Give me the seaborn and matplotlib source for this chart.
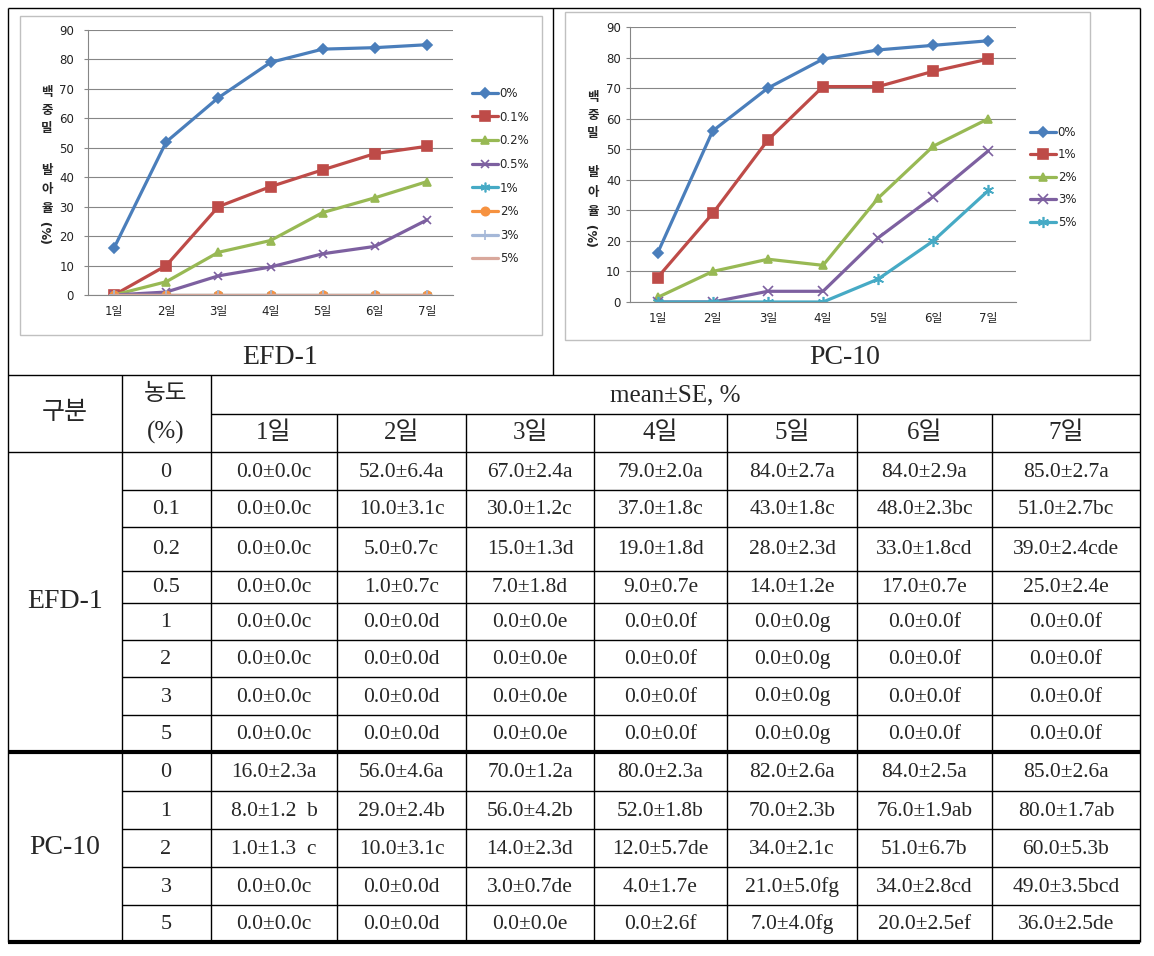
import matplotlib
matplotlib.use("Agg")
import matplotlib.pyplot as plt
from matplotlib.patches import Rectangle
import seaborn as sns

sns.set_style("white")
plt.rcParams['font.family'] = ['DejaVu Sans', 'Noto Sans CJK KR']
serif = ['Liberation Serif', 'Noto Sans CJK KR']

days = ["1일", "2일", "3일", "4일", "5일", "6일", "7일"]

# EFD-1 chart
efd_labels = ["0%", "0.1%", "0.2%", "0.5%", "1%", "2%", "3%", "5%"]
efd_0 = [16, 52, 67, 79, 83.5, 84, 85]
efd_01 = [0, 10, 30, 36.8, 42.5, 48, 50.5]
efd_02 = [0, 4.5, 14.5, 18.5, 28, 33, 38.5]
efd_05 = [0, 1, 6.5, 9.5, 14, 16.5, 25.5]
efd_1 = [0, 0, 0, 0, 0, 0, 0]
efd_2 = [0, 0, 0, 0, 0, 0, 0]
efd_3 = [0, 0, 0, 0, 0, 0, 0]
efd_5 = [0, 0, 0, 0, 0, 0, 0]

# PC-10 chart
pc_labels = ["0%", "1%", "2%", "3%", "5%"]
pc_0 = [16, 56, 70, 79.5, 82.5, 84, 85.5]
pc_1 = [8, 29, 53, 70.5, 70.5, 75.5, 79.5]
pc_2 = [1.5, 10, 14, 12, 34, 51, 60]
pc_3 = [0, 0, 3.5, 3.5, 21, 34.5, 49.5]
pc_5 = [0, 0, 0, 0, 7.5, 20, 36.5]

# table
efd_conc = ["0", "0.1", "0.2", "0.5", "1", "2", "3", "5"]
efd_rows = [
    ["0.0±0.0c", "52.0±6.4a", "67.0±2.4a", "79.0±2.0a", "84.0±2.7a", "84.0±2.9a", "85.0±2.7a"],
    ["0.0±0.0c", "10.0±3.1c", "30.0±1.2c", "37.0±1.8c", "43.0±1.8c", "48.0±2.3bc", "51.0±2.7bc"],
    ["0.0±0.0c", "5.0±0.7c", "15.0±1.3d", "19.0±1.8d", "28.0±2.3d", "33.0±1.8cd", "39.0±2.4cde"],
    ["0.0±0.0c", "1.0±0.7c", "7.0±1.8d", "9.0±0.7e", "14.0±1.2e", "17.0±0.7e", "25.0±2.4e"],
    ["0.0±0.0c", "0.0±0.0d", "0.0±0.0e", "0.0±0.0f", "0.0±0.0g", "0.0±0.0f", "0.0±0.0f"],
    ["0.0±0.0c", "0.0±0.0d", "0.0±0.0e", "0.0±0.0f", "0.0±0.0g", "0.0±0.0f", "0.0±0.0f"],
    ["0.0±0.0c", "0.0±0.0d", "0.0±0.0e", "0.0±0.0f", "0.0±0.0g", "0.0±0.0f", "0.0±0.0f"],
    ["0.0±0.0c", "0.0±0.0d", "0.0±0.0e", "0.0±0.0f", "0.0±0.0g", "0.0±0.0f", "0.0±0.0f"],
]
pc_conc = ["0", "1", "2", "3", "5"]
pc_rows = [
    ["16.0±2.3a", "56.0±4.6a", "70.0±1.2a", "80.0±2.3a", "82.0±2.6a", "84.0±2.5a", "85.0±2.6a"],
    ["8.0±1.2  b", "29.0±2.4b", "56.0±4.2b", "52.0±1.8b", "70.0±2.3b", "76.0±1.9ab", "80.0±1.7ab"],
    ["1.0±1.3  c", "10.0±3.1c", "14.0±2.3d", "12.0±5.7de", "34.0±2.1c", "51.0±6.7b", "60.0±5.3b"],
    ["0.0±0.0c", "0.0±0.0d", "3.0±0.7de", "4.0±1.7e", "21.0±5.0fg", "34.0±2.8cd", "49.0±3.5bcd"],
    ["0.0±0.0c", "0.0±0.0d", "0.0±0.0e", "0.0±2.6f", "7.0±4.0fg", "20.0±2.5ef", "36.0±2.5de"],
]

blue, red, green, purple = "#4A7EBB", "#BE4B48", "#98B954", "#7D60A0"
cyan, orange, lblue, pink = "#46AAC5", "#F69240", "#A5B8D8", "#D9A89C"

efd_styles = [(blue, "D", 5), (red, "s", 7), (green, "^", 6), (purple, "x", 6),
              (cyan, (6, 2, 0), 7), (orange, "o", 6), (lblue, "+", 7), (pink, "None", 0)]
pc_styles = [(blue, "D", 5), (red, "s", 7), (green, "^", 6), (purple, "x", 7), (cyan, (6, 2, 0), 8)]

W, H = 1154, 956
fig = plt.figure(figsize=(W / 100, H / 100), dpi=100)

bg = fig.add_axes([0, 0, 1, 1], zorder=0)
bg.set_xlim(0, W)
bg.set_ylim(H, 0)
bg.axis("off")


def hline(y, x0, x1, lw=1.0):
    bg.plot([x0, x1], [y, y], color="black", lw=lw, solid_capstyle="butt")


def vline(x, y0, y1, lw=1.0):
    bg.plot([x, x], [y0, y1], color="black", lw=lw, solid_capstyle="butt")


def draw_chart(rect, labels, series, styles, ypad, leg_xy, leg_space):
    ax = fig.add_axes([rect[0] / W, 1 - rect[3] / H, (rect[2] - rect[0]) / W, (rect[3] - rect[1]) / H],
                      zorder=2)
    x = list(range(len(days)))
    for lab, vals, (col, mk, ms) in zip(labels, series, styles):
        sns.lineplot(x=x, y=vals, ax=ax, color=col, marker=mk, markersize=ms, linewidth=2.3,
                     markeredgecolor=col, markerfacecolor=col, markeredgewidth=1.2, label=lab)
    ax.set_xlim(-0.5, 6.5)
    ax.set_ylim(0, 90)
    ax.set_yticks(range(0, 91, 10))
    ax.set_xticks(x)
    ax.set_xticklabels(days)
    ax.set_xticks([i - 0.5 for i in range(8)], minor=True)
    ax.yaxis.grid(True, color="#868686", lw=0.8)
    ax.set_axisbelow(True)
    for s in ["top", "right"]:
        ax.spines[s].set_visible(False)
    for s in ["left", "bottom"]:
        ax.spines[s].set_color("#868686")
        ax.spines[s].set_linewidth(0.8)
    ax.tick_params(axis="x", which="major", length=0, pad=7, labelsize=8.5, labelcolor="#222222")
    ax.tick_params(axis="x", which="minor", length=3, color="#868686", width=0.8, direction="out")
    ax.tick_params(axis="y", length=3, color="#868686", width=0.8, pad=ypad, labelsize=8.5,
                   labelcolor="#222222", direction="out", left=True)
    ax.set_xlabel("")
    ax.set_ylabel("")
    handles, labs = ax.get_legend_handles_labels()
    ax.legend(handles, labs, loc="upper left", bbox_to_anchor=(leg_xy[0] / W, 1 - leg_xy[1] / H),
              bbox_transform=fig.transFigure, frameon=False, fontsize=8.5, labelspacing=leg_space,
              handlelength=2.2, handletextpad=0.15, borderpad=0, borderaxespad=0)
    return ax


# frames of the top row
hline(8, 8, 1140)
vline(8, 8, 942)
vline(1140, 8, 942)
vline(553, 8, 375)
hline(375, 8, 1140)
bg.add_patch(Rectangle((20, 16), 522, 319, fill=False, edgecolor="#C0C0C0", lw=1))
bg.add_patch(Rectangle((565, 12), 525, 328, fill=False, edgecolor="#C0C0C0", lw=1))

draw_chart((88, 30, 453, 295), efd_labels,
           [efd_0, efd_01, efd_02, efd_05, efd_1, efd_2, efd_3, efd_5],
           efd_styles, 7, (472, 87), 0.9)
draw_chart((630, 27, 1016, 302), pc_labels, [pc_0, pc_1, pc_2, pc_3, pc_5],
           pc_styles, 3.5, (1030, 126), 0.8)

# stacked y labels
for cx, ys in [(47, [92, 110, 128, 170, 189, 208]), (593, [97, 115, 133, 172, 192, 211])]:
    for ch, yy in zip("백중밀발아율", ys):
        bg.text(cx, yy, ch, ha="center", va="center", fontsize=9, fontweight="bold",
                family=["Noto Sans CJK KR"])
    bg.text(cx, ys[-1] + 23, "(%)", ha="center", va="center", fontsize=9, fontweight="bold",
            rotation=90)

bg.text(280, 357, "EFD-1", ha="center", va="center", fontsize=20, family=serif)
bg.text(845, 357, "PC-10", ha="center", va="center", fontsize=20, family=serif)

# table grid
col_x = [211, 337, 466, 594, 727, 857, 992, 1140]
efd_y = [452, 490, 527, 571, 603, 640, 677, 715, 752]
pc_y = [752, 791, 829, 867, 905, 942]

hline(414, 211, 1140)
vline(122, 375, 942)
vline(211, 375, 942)
for cx in col_x[1:-1]:
    vline(cx, 414, 942)
hline(452, 8, 1140)
for yy in efd_y[1:-1] + pc_y[1:-1]:
    hline(yy, 122, 1140)
hline(752, 8, 1140, lw=3)
hline(942, 8, 1140, lw=3)

# table header
bg.text(65, 413, "구분", ha="center", va="center", fontsize=18, family=serif)
bg.text(166, 394, "농도", ha="center", va="center", fontsize=17, family=serif)
bg.text(166, 432, "(%)", ha="center", va="center", fontsize=18, family=serif)
bg.text(675, 395, "mean±SE, %", ha="center", va="center", fontsize=18, family=serif)
centers = [(col_x[i] + col_x[i + 1]) / 2 for i in range(7)]
for cx, d in zip(centers, days):
    bg.text(cx, 433, d, ha="center", va="center", fontsize=18, family=serif)

# table body
for name, conc, rows, ys in [("EFD-1", efd_conc, efd_rows, efd_y), ("PC-10", pc_conc, pc_rows, pc_y)]:
    bg.text(65, (ys[0] + ys[-1]) / 2, name, ha="center", va="center", fontsize=20, family=serif)
    for i, (c, row) in enumerate(zip(conc, rows)):
        yc = (ys[i] + ys[i + 1]) / 2 + 1
        bg.text(166, yc, c, ha="center", va="center", fontsize=16, family=serif)
        for cx, cell in zip(centers, row):
            bg.text(cx, yc, cell, ha="center", va="center", fontsize=15.5, family=serif)

fig.savefig("out.png", dpi=100)
